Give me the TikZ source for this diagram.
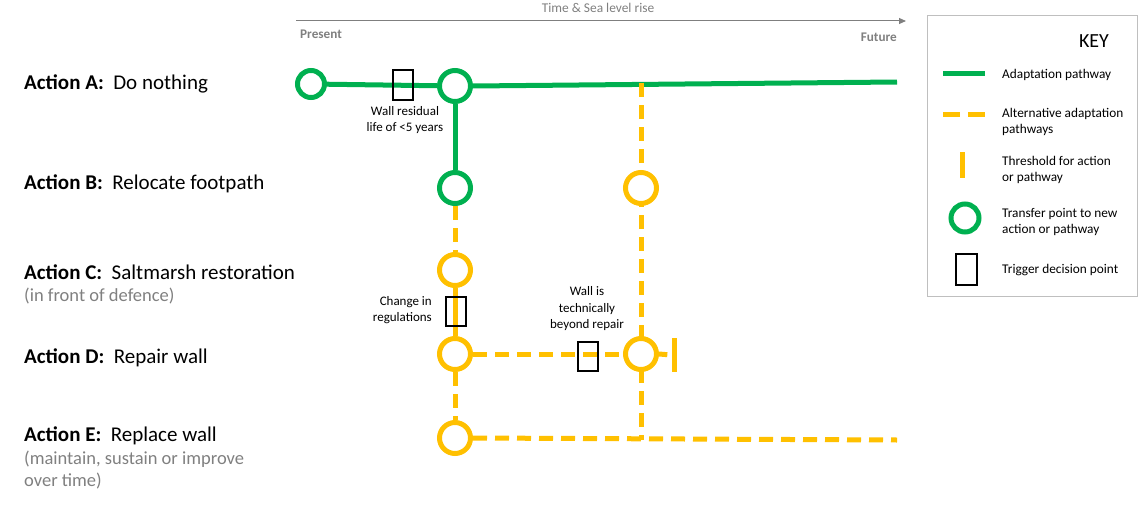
\documentclass[tikz,border=0pt]{standalone}
\usepackage{fontspec}
\setmainfont{Carlito}
\usetikzlibrary{arrows.meta}
\definecolor{pgreen}{HTML}{00B050}
\definecolor{pyellow}{HTML}{FFC000}
\definecolor{axgray}{HTML}{7F7F7F}
\definecolor{subgray}{HTML}{808080}
\definecolor{keygray}{HTML}{BFBFBF}
\pgfdeclarelayer{bg}
\pgfsetlayers{bg,main}
\begin{document}
\begin{tikzpicture}[x=1pt,y=-1pt,
  tp/.style={circle, line width=5pt, minimum size=31pt, inner sep=0pt, fill=white},
  gtp/.style={tp, draw=pgreen},
  ytp/.style={tp, draw=pyellow},
  trig/.style={draw=black, line width=2pt, minimum width=20pt, minimum height=29pt, inner sep=0pt},
  gpath/.style={draw=pgreen, line width=5pt},
  ypath/.style={draw=pyellow, line width=5pt, dash pattern=on 14pt off 8pt},
  yfull/.style={draw=pyellow, line width=5pt},
  act/.style={anchor=west, inner sep=0pt, font=\fontsize{21}{24}\selectfont},
  sub/.style={anchor=west, inner sep=0pt, text=subgray, font=\fontsize{18.5}{22}\selectfont},
  note/.style={inner sep=0pt, align=center, font=\fontsize{13}{16.5}\selectfont},
  keytxt/.style={anchor=west, inner sep=0pt, align=left, font=\fontsize{13.3}{16}\selectfont}]
\useasboundingbox (0,0) rectangle (1146,511);

% axis
\coordinate (axs) at (296,21);
\coordinate (axe) at (906,21);
\draw[axgray, line width=1pt, -{Triangle[length=7pt,width=6pt]}] (axs) -- (axe);
\node[inner sep=0pt, text=axgray, font=\fontsize{13.4}{15}\selectfont] (axlbl) at (598,8) {Time \& Sea level rise};
\node[inner sep=0pt, anchor=west, text=axgray, font=\bfseries\fontsize{13.2}{15}\selectfont] (present) at (300,34) {Present};
\node[inner sep=0pt, anchor=east, text=axgray, font=\bfseries\fontsize{13.2}{15}\selectfont] (future) at (897,37) {Future};

% action labels
\node[act] (la) at (24,84) {\textbf{Action A:}\ \ Do nothing};
\node[act] (lb) at (24,184) {\textbf{Action B:}\ \ Relocate footpath};
\node[act] (lc) at (24,272) {\textbf{Action C:}\ \ Saltmarsh restoration};
\node[sub] (lc2) at (24,296) {(in front of defence)};
\node[act] (ld) at (24,358) {\textbf{Action D:}\ \ Repair wall};
\node[act] (le) at (24,436) {\textbf{Action E:}\ \ Replace wall};
\node[sub] (le2) at (24,459) {(maintain, sustain or improve};
\node[sub] (le3) at (24,481) {over time)};

% transfer points
\node[gtp, minimum size=27pt] (A1) at (311,84) {};
\node[gtp] (A2) at (455,86) {};
\node[gtp] (B) at (455,188) {};
\node[ytp] (C) at (455,270) {};
\node[ytp] (D) at (455,354) {};
\node[ytp] (E) at (455,438) {};
\node[ytp] (R1) at (641,188) {};
\node[ytp] (R2) at (641,354) {};

\coordinate (aend) at (897,82);
\coordinate (vtop) at (641,83);
\coordinate (vbot) at (641,440);
\coordinate (eend) at (897,440);
\node[fill=pyellow, minimum width=5pt, minimum height=34pt, inner sep=0pt] (thr) at (674,355) {};

% trigger boxes
\node[trig] (tA) at (403,85) {};
\node[trig] (tC) at (455.5,311) {};
\node[trig] (tD) at (587.5,356) {};

\node[note] (nA) at (405,120) {Wall residual\\life of <5 years};
\node[note, align=right, anchor=east] (nC) at (432,310) {Change in\\regulations};
\node[note] (nD) at (587,309) {Wall is\\technically\\beyond repair};

\begin{pgfonlayer}{bg}
  \draw[gpath] (A1) -- (A2);
  \draw[gpath] (A2.east) -- (aend);
  \draw[gpath] (A2) -- (B);
  \draw[ypath] (B) -- (C);
  \draw[yfull] (C) -- (D);
  \draw[ypath] (D) -- (E);
  \draw[ypath] (D) -- (R2);
  \draw[ypath, shorten >=4pt] (R2.east) -- (thr.west);
  \draw[ypath] (vtop) -- (vbot);
  \draw[ypath] (E.east) -- (eend);
\end{pgfonlayer}

% key
\node[draw=keygray, line width=1pt, minimum width=210pt, minimum height=280pt, inner sep=0pt] (key) at (1032,156) {};
\node[inner sep=0pt, font=\fontsize{20}{22}\selectfont] (keyt) at (1094,41) {KEY};
\coordinate (k1a) at (943,74);
\coordinate (k1b) at (985,74);
\draw[gpath] (k1a) -- (k1b);
\node[keytxt] (kt1) at (1002,75) {Adaptation pathway};
\coordinate (k2a) at (943,114);
\coordinate (k2b) at (985,114);
\draw[draw=pyellow, line width=5pt, dash pattern=on 17pt off 8pt] (k2a) -- (k2b);
\node[keytxt] (kt2) at (1002,122) {Alternative adaptation\\pathways};
\coordinate (k3a) at (962,152);
\coordinate (k3b) at (962,178);
\draw[yfull] (k3a) -- (k3b);
\node[keytxt] (kt3) at (1002,170) {Threshold for action\\or pathway};
\node[gtp, minimum size=28pt] (k4) at (965,218) {};
\node[keytxt] (kt4) at (1002,222) {Transfer point to new\\action or pathway};
\node[trig, minimum width=21pt, minimum height=31pt] (k5) at (966,269) {};
\node[keytxt] (kt5) at (1002,270) {Trigger decision point};
\end{tikzpicture}
\end{document}
